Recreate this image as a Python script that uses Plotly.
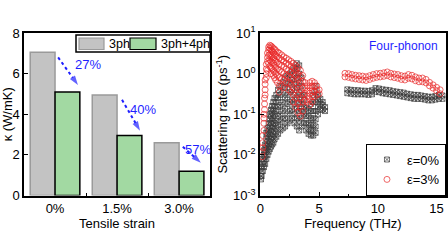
import plotly.graph_objects as go

# ---------------- Left panel data ----------------
strain_labels = ["0%", "1.5%", "3.0%"]
kappa_3ph = [7.05, 4.95, 2.6]
kappa_34ph = [5.1, 2.95, 1.2]
reduction_labels = ["27%", "40%", "57%"]
series_names = ["3ph", "3ph+4ph"]

# ---------------- Right panel data ----------------
# eps = 0 %, low-frequency cloud: each x with the rates seen at that x
gray_low_x = [0.05, 0.1, 0.2, 0.3, 0.4, 0.5, 0.6, 0.7, 0.8, 0.9, 1.0, 1.1, 1.2, 1.35, 1.5,
              1.7, 1.9, 2.1, 2.3, 2.5, 2.7, 2.9, 3.1, 3.3, 3.5, 3.7, 3.9, 4.1, 4.3, 4.5,
              4.7, 4.9, 5.1, 5.3, 5.5]
gray_low_y = [
    [0.0025, 0.003],
    [0.003, 0.004, 0.005],
    [0.004, 0.006, 0.008],
    [0.005, 0.007, 0.01, 0.013],
    [0.006, 0.009, 0.013, 0.018],
    [0.008, 0.012, 0.017, 0.025, 0.035],
    [0.01, 0.015, 0.022, 0.032, 0.045],
    [0.012, 0.018, 0.027, 0.04, 0.06],
    [0.014, 0.021, 0.032, 0.05, 0.075, 0.1],
    [0.016, 0.025, 0.038, 0.06, 0.09, 0.13],
    [0.018, 0.028, 0.045, 0.07, 0.11, 0.16],
    [0.02, 0.032, 0.05, 0.08, 0.13, 0.2],
    [0.024, 0.038, 0.06, 0.1, 0.16, 0.25],
    [0.028, 0.045, 0.07, 0.12, 0.2, 0.3],
    [0.033, 0.055, 0.09, 0.15, 0.25, 0.4],
    [0.04, 0.065, 0.1, 0.17, 0.3, 0.5],
    [0.045, 0.075, 0.12, 0.2, 0.35, 0.6],
    [0.05, 0.08, 0.14, 0.25, 0.45, 0.8],
    [0.06, 0.1, 0.18, 0.3, 0.55, 0.9],
    [0.07, 0.12, 0.2, 0.35, 0.6, 1.0],
    [0.08, 0.13, 0.22, 0.4, 0.7, 1.2],
    [0.06, 0.1, 0.18, 0.3, 0.55, 0.9, 1.4],
    [0.05, 0.08, 0.14, 0.25, 0.45, 0.8, 1.3, 1.8],
    [0.04, 0.07, 0.12, 0.2, 0.35, 0.6, 1.0, 1.6],
    [0.05, 0.08, 0.12, 0.18, 0.3, 0.5, 0.8],
    [0.06, 0.1, 0.15, 0.22, 0.3],
    [0.04, 0.06, 0.09, 0.14],
    [0.033, 0.045, 0.06, 0.09, 0.13],
    [0.03, 0.04, 0.055, 0.08, 0.12, 0.18],
    [0.03, 0.04, 0.055, 0.08, 0.12, 0.2, 0.3],
    [0.035, 0.05, 0.075, 0.12, 0.2, 0.35, 0.5],
    [0.1, 0.15, 0.22, 0.3],
    [0.13, 0.18, 0.24],
    [0.13, 0.17, 0.2],
    [0.12, 0.15],
]
# eps = 0 %, optical band
gray_high_x = [7.4, 7.7, 8.0, 8.3, 8.6, 8.9, 9.2, 9.5, 9.8, 10.1, 10.4, 10.7, 11.0, 11.3,
               11.6, 11.9, 12.2, 12.5, 12.8, 13.1, 13.4, 13.7, 14.0, 14.3, 14.6, 14.9, 15.2, 15.5]
gray_high_upper = [0.41, 0.40, 0.39, 0.39, 0.38, 0.38, 0.37, 0.39, 0.44, 0.43, 0.41, 0.40, 0.39, 0.37,
                   0.36, 0.35, 0.34, 0.32, 0.31, 0.30, 0.30, 0.29, 0.28, 0.27, 0.27, 0.28, 0.30, 0.29]
gray_high_lower = [0.33, 0.32, 0.31, 0.31, 0.31, 0.31, 0.30, 0.31, 0.36, 0.35, 0.33, 0.32, 0.31, 0.30,
                   0.29, 0.28, 0.27, 0.26, 0.25, 0.24, 0.24, 0.24, 0.23, 0.22, 0.22, 0.23, 0.24, 0.24]

# eps = 3 %, low-frequency cloud
red_low_x = [0.15, 0.2, 0.3, 0.35, 0.4, 0.5, 0.6, 0.7, 0.8, 0.9, 1.0, 1.1, 1.2, 1.3, 1.45,
             1.6, 1.8, 2.0, 2.2, 2.4, 2.6, 2.8, 3.0, 3.2, 3.4, 3.6, 3.8, 4.0, 4.2, 4.4,
             4.6, 4.8, 5.0]
red_low_y = [
    [0.009, 0.012],
    [0.015, 0.02, 0.03],
    [0.04, 0.06, 0.08, 0.1],
    [0.13, 0.18, 0.25],
    [0.3, 0.4, 0.55, 0.7],
    [0.8, 1.0, 1.3, 1.7],
    [1.2, 2.0, 2.5, 3.2],
    [1.8, 2.8, 3.8, 4.5],
    [1.5, 2.2, 3.0, 4.2, 5.0],
    [1.0, 1.4, 2.0, 2.8, 3.8, 4.8],
    [1.3, 1.9, 2.6, 3.5, 4.5],
    [0.9, 1.2, 1.8, 2.4, 3.3, 4.2],
    [0.8, 1.1, 1.6, 2.2, 3.0, 4.0],
    [0.7, 1.0, 1.4, 2.0, 2.8, 3.7],
    [0.6, 0.9, 1.3, 1.9, 2.6, 3.4],
    [0.35, 0.5, 0.8, 1.2, 1.7, 2.4, 3.2],
    [0.5, 0.75, 1.1, 1.6, 2.2, 2.9],
    [0.45, 0.7, 1.0, 1.5, 2.0, 2.6],
    [0.6, 0.9, 1.3, 1.8, 2.4],
    [0.4, 0.6, 0.85, 1.2, 1.7, 2.2],
    [0.35, 0.55, 0.8, 1.1, 1.5, 2.0],
    [0.2, 0.3, 0.45, 0.7, 1.0, 1.4, 1.8],
    [0.15, 0.25, 0.4, 0.6, 0.9, 1.2, 1.6],
    [0.11, 0.18, 0.3, 0.45, 0.7, 1.0, 1.4],
    [0.09, 0.15, 0.25, 0.4, 0.6, 0.85, 1.2],
    [0.12, 0.2, 0.3, 0.45, 0.65, 0.9],
    [0.22, 0.32, 0.45, 0.6],
    [0.2, 0.28, 0.38, 0.5],
    [0.17, 0.24, 0.33, 0.45, 0.6],
    [0.2, 0.28, 0.38, 0.5, 0.65],
    [0.27, 0.36, 0.48, 0.6],
    [0.3, 0.4, 0.5],
    [0.32, 0.4],
]
# eps = 3 %, optical band
red_high_x = [7.2, 7.5, 7.8, 8.1, 8.4, 8.7, 9.0, 9.3, 9.6, 9.9, 10.2, 10.5, 10.8, 11.1,
              11.4, 11.7, 12.0, 12.3, 12.6, 12.9, 13.2, 13.5, 13.8, 14.1, 14.4, 14.7, 15.0, 15.3]
red_high_upper = [1.02, 1.0, 0.95, 0.91, 0.89, 0.87, 0.84, 0.89, 0.95, 1.0, 1.02, 1.05, 1.1, 1.02,
                  0.98, 0.95, 0.89, 0.87, 0.95, 0.91, 0.83, 0.78, 0.78, 0.72, 0.61, 0.53, 0.46, 0.40]
red_high_lower = [0.83, 0.81, 0.77, 0.74, 0.72, 0.70, 0.68, 0.72, 0.77, 0.81, 0.83, 0.86, 0.9, 0.83,
                  0.80, 0.77, 0.72, 0.70, 0.77, 0.74, 0.67, 0.63, 0.63, 0.59, 0.50, 0.44, 0.38, 0.32]


def flatten(xs, rows):
    fx, fy = [], []
    for x, ys in zip(xs, rows):
        for y in ys:
            fx.append(x)
            fy.append(y)
    return fx, fy


gx, gy = flatten(gray_low_x, gray_low_y)
for row in (gray_high_upper, gray_high_lower):
    gx += gray_high_x
    gy += row
rx, ry = flatten(red_low_x, red_low_y)
for row in (red_high_upper, red_high_lower):
    rx += red_high_x
    ry += row

FONT = "Liberation Sans, Arial, sans-serif"
BLUE = "#1f1fff"
GRAY_FILL, GRAY_EDGE = "#c3c3c3", "#9a9a9a"
GREEN_FILL, GREEN_EDGE = "#a2d9a2", "black"

fig = go.Figure()
cat_x = list(range(len(strain_labels)))
fig.add_trace(go.Bar(x=cat_x, y=kappa_3ph, name=series_names[0], showlegend=False,
                     marker=dict(color=GRAY_FILL, line=dict(color=GRAY_EDGE, width=1.5)),
                     xaxis="x", yaxis="y"))
fig.add_trace(go.Bar(x=cat_x, y=kappa_34ph, name=series_names[1], showlegend=False,
                     marker=dict(color=GREEN_FILL, line=dict(color=GREEN_EDGE, width=1.5)),
                     xaxis="x", yaxis="y"))

# reduction arrows: dotted line ending in an arrow marker
arrow_starts = [(0.05, 6.8), (1.08, 4.71), (2.06, 2.40)]
arrow_ends = [(0.37, 5.44), (1.37, 3.19), (2.35, 1.62)]
label_pos = [(0.53, 6.47), (1.42, 4.26), (2.31, 2.25)]
for (x0, y0), (x1, y1) in zip(arrow_starts, arrow_ends):
    fig.add_trace(go.Scatter(x=[x0, x1], y=[y0, y1], mode="lines+markers", showlegend=False,
                             hoverinfo="skip", xaxis="x", yaxis="y",
                             line=dict(color=BLUE, width=2, dash="dot"),
                             marker=dict(symbol="arrow", size=[0, 10], color=BLUE,
                                         angleref="previous", line=dict(width=0))))
for (lx, ly), txt in zip(label_pos, reduction_labels):
    fig.add_annotation(xref="x", yref="y", x=lx, y=ly, text=txt, showarrow=False,
                       font=dict(size=13, color=BLUE))

fig.add_trace(go.Scatter(x=gx, y=gy, mode="markers", name="ε=0%",
                         marker=dict(symbol="square-x-open", size=5, color="#3a3a3a",
                                     opacity=0.7, line=dict(width=1)),
                         xaxis="x2", yaxis="y2", legend="legend2"))
fig.add_trace(go.Scatter(x=rx, y=ry, mode="markers", name="ε=3%",
                         marker=dict(symbol="circle-open", size=6, color="#e82828",
                                     opacity=0.7, line=dict(width=1)),
                         xaxis="x2", yaxis="y2", legend="legend2"))

axis_common = dict(showline=True, linecolor="black", linewidth=1.5, mirror=True,
                   showgrid=False, zeroline=False, ticks="inside", ticklen=4,
                   tickcolor="black", tickfont=dict(size=13, color="black"),
                   automargin=False)

Y0, Y1 = 0.224, 0.869
fig.update_layout(
    width=448, height=252, margin=dict(l=0, r=0, t=0, b=0, autoexpand=False),
    paper_bgcolor="white", plot_bgcolor="white",
    font=dict(family=FONT, size=13, color="black"),
    barmode="group", bargap=0.2, bargroupgap=0,
    xaxis=dict(domain=[0.0536, 0.469], range=[-0.5, 2.5], tickvals=cat_x, ticktext=strain_labels,
               anchor="y", title=dict(text="Tensile strain", standoff=2, font=dict(size=13)),
               **{**axis_common, "ticks": ""},
               minor=dict(tickvals=[0.5, 1.5], ticks="inside", ticklen=3, tickcolor="black")),
    yaxis=dict(domain=[Y0, Y1], range=[0, 8], tickvals=[0, 2, 4, 6, 8], anchor="x",
               title=dict(text="κ (W/mK)", standoff=2, font=dict(size=13)), **axis_common),
    xaxis2=dict(domain=[0.580, 0.9955], range=[-0.05, 15.8], tickvals=[0, 5, 10, 15], anchor="y2",
                title=dict(text="Frequency (THz)", standoff=2, font=dict(size=13)),
                minor=dict(dtick=2.5, ticks="inside", ticklen=2, tickcolor="black"), **axis_common),
    yaxis2=dict(domain=[Y0, Y1], type="log", range=[-3, 1], anchor="x2",
                tickvals=[0.001, 0.01, 0.1, 1, 10],
                ticktext=["10<sup>-3</sup>", "10<sup>-2</sup>", "10<sup>-1</sup>",
                          "10<sup>0</sup>", "10<sup>1</sup>"],
                title=dict(text="Scattering rate (ps<sup>-1</sup>)", standoff=2, font=dict(size=13)),
                **axis_common),
    legend2=dict(x=0.9955, xanchor="right", y=Y0, yanchor="bottom",
                 bordercolor="black", borderwidth=1, bgcolor="white",
                 font=dict(size=13), itemwidth=30),
)

# legend of the bar panel: framed box with wide colour swatches
W, H = 448.0, 252.0
def px(x):
    return x / W
def py(y):
    return 1 - y / H

fig.add_shape(type="rect", xref="paper", yref="paper", x0=px(76), x1=px(210), y0=py(52), y1=py(35),
              line=dict(color="black", width=1.5), fillcolor="white", layer="above")
swatches = [(79, 104, GRAY_FILL, GRAY_EDGE, 107), (130, 156, GREEN_FILL, GREEN_EDGE, 159)]
for (sx0, sx1, fill, edge, tx), name in zip(swatches, series_names):
    fig.add_shape(type="rect", xref="paper", yref="paper", x0=px(sx0), x1=px(sx1),
                  y0=py(49.5), y1=py(38), line=dict(color=edge, width=1.2), fillcolor=fill,
                  layer="above")
    fig.add_annotation(xref="paper", yref="paper", x=px(tx), y=py(44), xanchor="left",
                       yanchor="middle", text=name, showarrow=False, font=dict(size=12.5))

fig.add_annotation(xref="x2 domain", yref="y2 domain", x=0.97, y=0.975, xanchor="right",
                   yanchor="top", text="Four-phonon", showarrow=False,
                   font=dict(size=12, color=BLUE))

fig.write_html("out.html", config={"displayModeBar": False},
               post_script="document.body.style.margin='0';document.body.style.overflow='hidden';")
